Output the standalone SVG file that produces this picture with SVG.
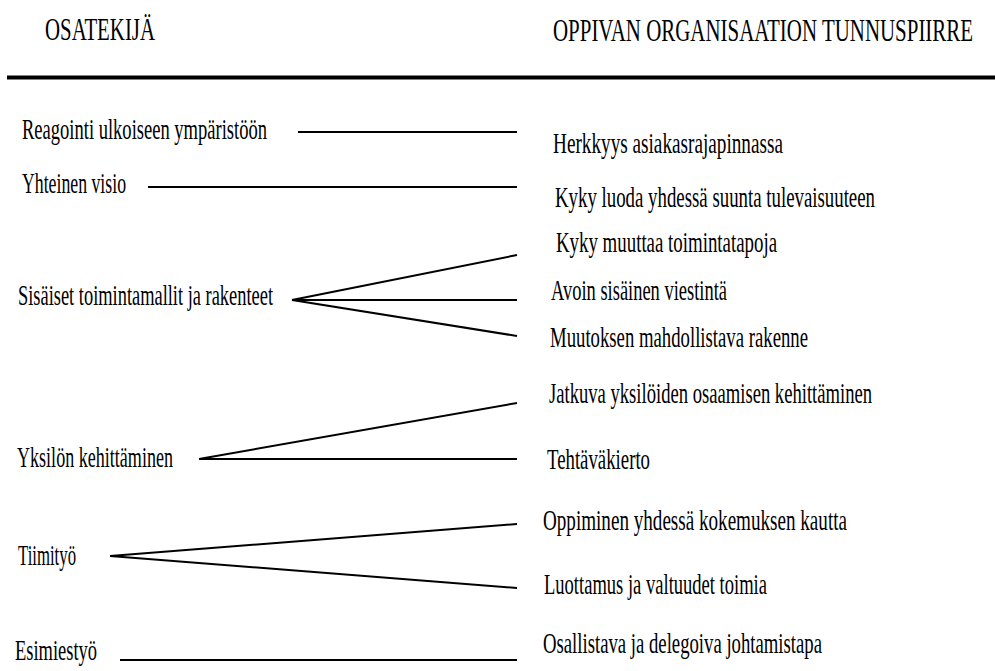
<svg xmlns="http://www.w3.org/2000/svg" width="995" height="671" viewBox="0 0 995 671">
  <style>
    .link { stroke: #000; stroke-width: 2; fill: none; }
    .rule { stroke: #000; stroke-width: 4; }
  </style>
  <rect width="995" height="671" fill="#fff"/>

  <g font-family="Liberation Serif" fill="#000">
    <!-- column headings -->
    <g font-size="32">
      <g id="head-left"><text x="45" y="40" textLength="110" lengthAdjust="spacingAndGlyphs">OSATEKIJÄ</text></g>
      <g id="head-right"><text x="553" y="41" textLength="420" lengthAdjust="spacingAndGlyphs">OPPIVAN ORGANISAATION TUNNUSPIIRRE</text></g>
    </g>

    <g font-size="30">
      <!-- factors (left column) -->
      <g id="f-reagointi"><text x="22" y="139" textLength="245" lengthAdjust="spacingAndGlyphs">Reagointi ulkoiseen ympäristöön</text></g>
      <g id="f-visio"><text x="22" y="193" textLength="104" lengthAdjust="spacingAndGlyphs">Yhteinen visio</text></g>
      <g id="f-sisaiset"><text x="18" y="305" textLength="255" lengthAdjust="spacingAndGlyphs">Sisäiset toimintamallit ja rakenteet</text></g>
      <g id="f-yksilo"><text x="17" y="467" textLength="156" lengthAdjust="spacingAndGlyphs">Yksilön kehittäminen</text></g>
      <g id="f-tiimi"><text x="18" y="565" textLength="58" lengthAdjust="spacingAndGlyphs">Tiimityö</text></g>
      <g id="f-esimies"><text x="15" y="660" textLength="82" lengthAdjust="spacingAndGlyphs">Esimiestyö</text></g>

      <!-- characteristics (right column) -->
      <g id="c-herkkyys"><text x="553" y="153" textLength="230" lengthAdjust="spacingAndGlyphs">Herkkyys asiakasrajapinnassa</text></g>
      <g id="c-suunta"><text x="555" y="207" textLength="320" lengthAdjust="spacingAndGlyphs">Kyky luoda yhdessä suunta tulevaisuuteen</text></g>
      <g id="c-muuttaa"><text x="556" y="252" textLength="221" lengthAdjust="spacingAndGlyphs">Kyky muuttaa toimintatapoja</text></g>
      <g id="c-viestinta"><text x="551" y="300" textLength="176" lengthAdjust="spacingAndGlyphs">Avoin sisäinen viestintä</text></g>
      <g id="c-rakenne"><text x="550" y="347" textLength="258" lengthAdjust="spacingAndGlyphs">Muutoksen mahdollistava rakenne</text></g>
      <g id="c-jatkuva"><text x="549" y="403" textLength="323" lengthAdjust="spacingAndGlyphs">Jatkuva yksilöiden osaamisen kehittäminen</text></g>
      <g id="c-kierto"><text x="547" y="469" textLength="103" lengthAdjust="spacingAndGlyphs">Tehtäväkierto</text></g>
      <g id="c-oppiminen"><text x="543" y="530" textLength="304" lengthAdjust="spacingAndGlyphs">Oppiminen yhdessä kokemuksen kautta</text></g>
      <g id="c-luottamus"><text x="544" y="594" textLength="223" lengthAdjust="spacingAndGlyphs">Luottamus ja valtuudet toimia</text></g>
      <g id="c-johtamistapa"><text x="543" y="653" textLength="279" lengthAdjust="spacingAndGlyphs">Osallistava ja delegoiva johtamistapa</text></g>
    </g>
  </g>

  <!-- heavy rule under the headings -->
  <line class="rule" x1="7" y1="77.5" x2="995" y2="77.5"/>

  <!-- connectors from factors to characteristics -->
  <g id="connectors">
    <line class="link" x1="298" y1="132" x2="517" y2="132"/>
    <line class="link" x1="148" y1="187" x2="517" y2="187"/>
    <line class="link" x1="292" y1="300" x2="517" y2="255"/>
    <line class="link" x1="292" y1="300" x2="517" y2="300"/>
    <line class="link" x1="292" y1="300" x2="517" y2="336"/>
    <line class="link" x1="199" y1="459" x2="517" y2="403"/>
    <line class="link" x1="199" y1="459" x2="517" y2="459"/>
    <line class="link" x1="110" y1="556" x2="517" y2="524"/>
    <line class="link" x1="110" y1="556" x2="517" y2="588"/>
    <line class="link" x1="120" y1="660" x2="517" y2="660"/>
  </g>
</svg>
